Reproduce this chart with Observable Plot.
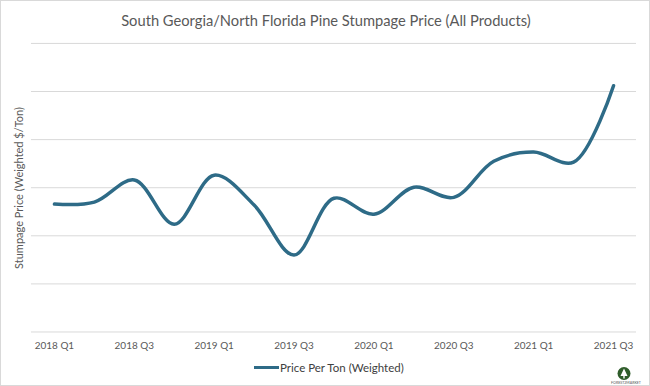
<!DOCTYPE html>
<html>
<head>
<meta charset="utf-8">
<script src="https://cdn.jsdelivr.net/npm/d3@7"></script>
<script src="https://cdn.jsdelivr.net/npm/@observablehq/plot@0.6"></script>
<style>
  html, body { margin: 0; padding: 0; background: #fff; }
  #wrap { position: relative; width: 650px; height: 386px; box-sizing: border-box; border: 1px solid #d9d9d9; background: #fff; overflow: hidden; font-family: Lato, "Open Sans", sans-serif; }
  #chart { position: absolute; left: -1px; top: -1px; }
  #title { position: absolute; left: 0; width: 650px; top: 10px; text-align: center; font-size: 14.7px; color: #595959; }
  #ylab { position: absolute; left: 17px; top: 187px; transform: translate(-50%, -50%) rotate(-90deg); white-space: nowrap; font-size: 11px; color: #595959; }
  #legend { position: absolute; left: 253px; top: 360px; display: flex; align-items: center; font-size: 11.5px; color: #404040; white-space: nowrap; }
  #legend .sw { width: 25px; height: 3.5px; background: #2e6b87; margin-right: 1px; }
  #logo { position: absolute; left: 608px; top: 365px; }
</style>
</head>
<body>
<div id="wrap">
  <div id="chart"></div>
  <div id="title">South Georgia/North Florida Pine Stumpage Price (All Products)</div>
  <div id="ylab">Stumpage Price (Weighted $/Ton)</div>
  <div id="legend"><span class="sw"></span><span>Price Per Ton (Weighted)</span></div>
  <svg id="logo" width="36" height="20" viewBox="0 0 36 20">
    <circle cx="15" cy="7.5" r="6.5" fill="#2f5d2b"></circle>
    <path d="M15 2.5 L11.5 10 L14.3 10 L14.3 12.5 L15.7 12.5 L15.7 10 L18.5 10 Z" fill="#fff"></path>
    <text x="17" y="18" text-anchor="middle" font-size="3.6" fill="#555" font-family="Lato, sans-serif">FOREST2MARKET</text>
  </svg>
</div>
<script>
const quarters = ["2018 Q1","2018 Q2","2018 Q3","2018 Q4","2019 Q1","2019 Q2","2019 Q3","2019 Q4",
                  "2020 Q1","2020 Q2","2020 Q3","2020 Q4","2021 Q1","2021 Q2","2021 Q3"];
const prices = [13.3, 13.5, 15.8, 11.2, 16.3, 13.2, 8.0, 13.9, 12.25, 15.05, 14.0, 17.75, 18.7, 17.65, 25.6];
const xTickLabels = ["2018 Q1","2018 Q3","2019 Q1","2019 Q3","2020 Q1","2020 Q3","2021 Q1","2021 Q3"];
const yGrid = [0, 5, 10, 15, 20, 25, 30];

const data = quarters.map((q, i) => ({quarter: q, price: prices[i]}));

const chart = Plot.plot({
  width: 650,
  height: 386,
  marginTop: 43,
  marginBottom: 54,
  marginLeft: 31,
  marginRight: 13,
  style: {background: "transparent", fontFamily: "Lato, 'Open Sans', sans-serif"},
  x: {type: "point", domain: quarters, padding: 0.5, label: null},
  y: {domain: [0, 30], label: null, axis: null},
  marks: [
    Plot.ruleY(yGrid, {stroke: "#d9d9d9", strokeWidth: 1}),
    Plot.axisX({ticks: xTickLabels, tickSize: 0, tickPadding: 10, fontSize: 10, color: "#595959", label: null}),
    Plot.line(data, {x: "quarter", y: "price", stroke: "#2e6b87", strokeWidth: 3.5, curve: "catmull-rom", strokeLinecap: "round"})
  ]
});
document.getElementById("chart").appendChild(chart);
</script>
</body>
</html>
